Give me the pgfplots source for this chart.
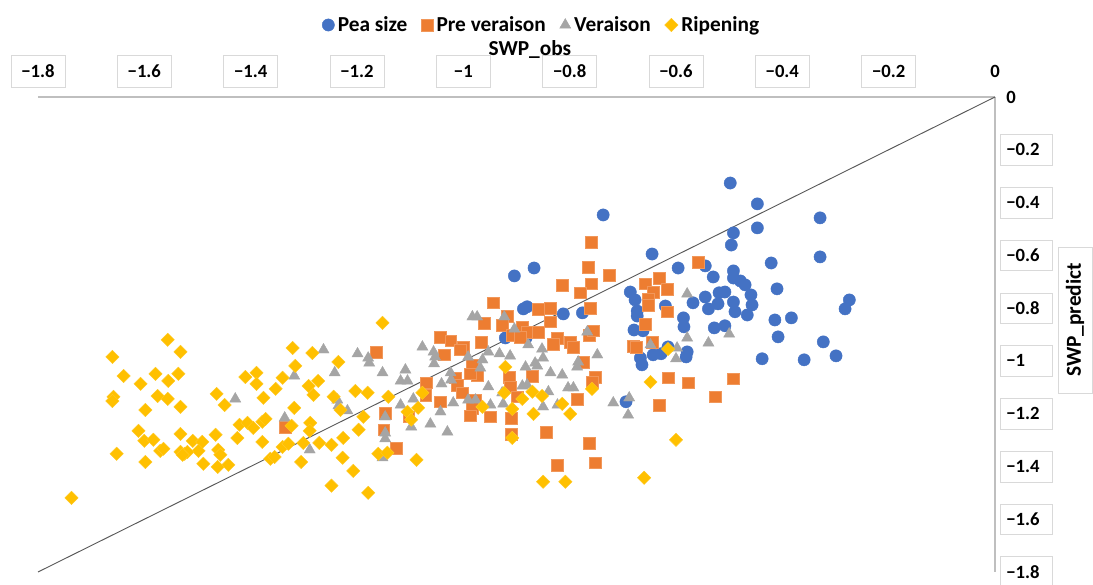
\documentclass[border=0pt]{standalone}
\usepackage{fontspec}
\setmainfont{Carlito}
\usepackage{pgfplots}
\pgfplotsset{compat=1.18}

\definecolor{peablue}{HTML}{4472C4}
\definecolor{preorange}{HTML}{ED7D31}
\definecolor{vergray}{HTML}{A5A5A5}
\definecolor{ripgold}{HTML}{FFC000}
\definecolor{axisgray}{HTML}{BFBFBF}
\definecolor{boxgray}{HTML}{D9D9D9}
\definecolor{linegray}{HTML}{595959}

\begin{document}
\begin{tikzpicture}
\begin{axis}[
  at={(0,0)}, anchor=south west,
  scale only axis, width=717.75pt, height=356.25pt,
  xmin=-1.8, xmax=0, ymin=-1.8, ymax=0,
  axis x line=top, axis y line=right,
  axis line style={-, draw=axisgray, line width=1.3pt},
  major tick length=0pt,
  xtick={-1.8,-1.6,-1.4,-1.2,-1,-0.8,-0.6,-0.4,-0.2},
  xticklabels={−1.8,−1.6,−1.4,−1.2,−1,−0.8,−0.6,−0.4,−0.2},
  ytick={-1.8,-1.6,-1.4,-1.2,-1,-0.8,-0.6,-0.4,-0.2},
  yticklabels={−1.8,−1.6,−1.4,−1.2,−1,−0.8,−0.6,−0.4,−0.2},
  extra x ticks={0}, extra x tick labels={0},
  extra y ticks={0}, extra y tick labels={0},
  extra x tick style={xticklabel style={draw=none, fill=none}},
  extra y tick style={yticklabel style={draw=none, fill=none}},
  xticklabel shift=7pt, yticklabel shift=3.75pt,
  xticklabel style={anchor=south, font=\bfseries\fontsize{14pt}{16pt}\selectfont,
    draw=boxgray, fill=white, minimum width=40.5pt, minimum height=24pt, inner sep=0pt},
  yticklabel style={anchor=west, font=\bfseries\fontsize{14pt}{16pt}\selectfont,
    draw=boxgray, fill=white, text width=30pt, align=left, inner xsep=4.5pt,
    minimum height=23pt, inner ysep=0pt},
  xlabel={SWP\_obs},
  xlabel style={at={(axis description cs:0.514,1.099)}, anchor=center,
    font=\bfseries\fontsize{16pt}{18pt}\selectfont},
  ylabel={SWP\_predict},
  ylabel style={at={(axis description cs:1.0836,0.5305)}, anchor=center, rotate=0,
    font=\bfseries\fontsize{16pt}{18pt}\selectfont,
    draw=boxgray, fill=white, minimum width=109.5pt, minimum height=25.5pt, inner sep=0pt},
  legend columns=4,
  legend cell align=left,
  legend image code/.code={\draw[#1] plot coordinates {(0pt,0pt)};},
  legend style={draw=none, fill=none,
    at={(axis description cs:0.527,1.1516)}, anchor=center,
    font=\bfseries\fontsize{16pt}{18pt}\selectfont,
    nodes={inner xsep=2.5pt, inner ysep=1pt},
    /tikz/every even column/.append style={column sep=8pt}},
  clip=false,
]

% Pea size
\addplot[only marks, mark=*, mark size=4.6pt, mark options={fill=peablue, draw=peablue, line width=0.3pt}] coordinates {
(-0.498,-0.326) (-0.447,-0.405) (-0.447,-0.496) (-0.492,-0.515) (-0.496,-0.561) (-0.329,-0.458) (-0.329,-0.606) (-0.421,-0.629) (-0.737,-0.447) (-0.645,-0.595) (-0.596,-0.648) (-0.545,-0.640) (-0.530,-0.682) (-0.492,-0.659) (-0.492,-0.686) (-0.479,-0.697) (-0.470,-0.712) (-0.459,-0.750) (-0.457,-0.788) (-0.410,-0.727) (-0.508,-0.739) (-0.519,-0.742) (-0.545,-0.758) (-0.568,-0.780) (-0.539,-0.803) (-0.521,-0.784) (-0.492,-0.777) (-0.489,-0.814) (-0.466,-0.826) (-0.414,-0.845) (-0.383,-0.837) (-0.408,-0.909) (-0.323,-0.928) (-0.299,-0.981) (-0.359,-0.996) (-0.438,-0.992) (-0.274,-0.769) (-0.282,-0.803) (-0.586,-0.837) (-0.585,-0.871) (-0.528,-0.875) (-0.508,-0.867) (-0.686,-0.739) (-0.677,-0.769) (-0.673,-0.811) (-0.673,-0.830) (-0.679,-0.883) (-0.662,-0.886) (-0.620,-0.792) (-0.643,-0.977) (-0.628,-0.973) (-0.667,-0.989) (-0.664,-1.015) (-0.579,-0.966) (-0.581,-0.985) (-0.615,-0.947) (-0.694,-1.155) (-0.776,-0.818) (-0.812,-0.822) (-0.904,-0.678) (-0.867,-0.648) (-0.887,-0.803) (-0.880,-0.795) (-0.921,-0.913) (-0.882,-0.913)
};
\addlegendentry{Pea size}

% Pre veraison
\addplot[only marks, mark=square*, mark size=4.4pt, mark options={fill=preorange, draw=preorange!80!white, line width=0.3pt}] coordinates {
(-1.164,-0.966) (-1.335,-1.250) (-1.147,-1.197) (-1.150,-1.261) (-1.126,-1.330) (-1.103,-1.212) (-1.070,-1.083) (-1.071,-1.129) (-0.759,-0.549) (-0.765,-0.644) (-0.726,-0.674) (-0.814,-0.712) (-0.759,-0.708) (-0.780,-0.742) (-0.944,-0.780) (-0.859,-0.803) (-0.836,-0.799) (-0.761,-0.799) (-0.917,-0.830) (-0.927,-0.864) (-0.961,-0.856) (-0.889,-0.871) (-0.880,-0.890) (-0.859,-0.890) (-0.908,-0.902) (-0.893,-0.909) (-0.836,-0.852) (-0.823,-0.913) (-0.831,-0.936) (-0.799,-0.928) (-0.793,-0.947) (-0.763,-0.902) (-0.756,-0.886) (-0.774,-1.004) (-1.043,-0.909) (-1.024,-0.924) (-1.000,-0.947) (-1.006,-0.958) (-0.966,-0.928) (-1.036,-0.977) (-0.983,-1.015) (-0.974,-1.053) (-0.987,-1.049) (-1.015,-1.064) (-1.011,-1.091) (-1.002,-1.121) (-0.914,-1.061) (-0.912,-1.098) (-0.870,-1.057) (-0.752,-1.061) (-0.758,-1.080) (-0.898,-1.136) (-0.977,-1.148) (-0.983,-1.178) (-1.043,-1.155) (-0.987,-1.208) (-0.949,-1.212) (-0.910,-1.216) (-0.786,-1.144) (-0.844,-1.269) (-0.910,-1.277) (-0.823,-1.394) (-0.752,-1.386) (-0.763,-1.311) (-0.615,-1.064) (-0.577,-1.083) (-0.632,-1.167) (-0.526,-1.136) (-0.492,-1.068) (-0.558,-0.625) (-0.632,-0.686) (-0.658,-0.708) (-0.643,-0.739) (-0.617,-0.727) (-0.652,-0.765) (-0.652,-0.788) (-0.617,-0.814) (-0.658,-0.860) (-0.680,-0.943) (-0.675,-0.947) (-0.645,-0.928)
};
\addlegendentry{Pre veraison}

% Veraison
\addplot[only marks, mark=triangle*, mark size=4.8pt, mark options={fill=vergray, draw=vergray, line width=0.3pt}] coordinates {
(-1.429,-1.144) (-1.263,-0.958) (-1.318,-1.057) (-1.242,-1.045) (-1.199,-0.973) (-1.179,-0.989) (-1.177,-1.008) (-1.152,-1.045) (-1.237,-1.148) (-1.235,-1.170) (-1.218,-1.189) (-1.336,-1.216) (-1.289,-1.337) (-1.147,-1.212) (-1.147,-1.273) (-1.147,-1.295) (-1.152,-1.367) (-1.077,-0.947) (-1.109,-1.034) (-1.118,-1.076) (-1.105,-1.076) (-1.118,-1.167) (-1.094,-1.144) (-1.098,-1.250) (-1.062,-1.239) (-0.983,-0.833) (-0.974,-0.833) (-0.923,-0.833) (-0.904,-0.879) (-0.878,-0.939) (-0.852,-0.955) (-0.850,-0.989) (-0.865,-1.008) (-0.861,-1.019) (-0.883,-1.023) (-1.056,-0.966) (-1.053,-0.985) (-1.055,-1.011) (-0.991,-0.985) (-0.964,-0.996) (-0.953,-0.966) (-0.932,-0.973) (-0.912,-0.981) (-0.968,-1.027) (-1.024,-1.045) (-1.023,-1.072) (-1.041,-1.087) (-0.953,-1.098) (-0.889,-1.095) (-0.880,-1.091) (-0.840,-1.117) (-0.836,-1.045) (-0.814,-1.053) (-0.786,-1.023) (-0.784,-1.004) (-0.803,-1.102) (-0.793,-1.102) (-0.991,-1.148) (-0.977,-1.148) (-0.949,-1.167) (-0.927,-1.121) (-0.925,-1.163) (-0.850,-1.174) (-0.823,-1.167) (-1.019,-1.159) (-1.043,-1.193) (-1.030,-1.269) (-0.767,-0.890) (-0.748,-0.977) (-0.579,-0.746) (-0.579,-0.913) (-0.539,-0.932) (-0.500,-0.898) (-0.648,-0.939) (-0.598,-0.951) (-0.600,-0.992) (-0.718,-1.159) (-0.688,-1.140) (-0.690,-1.205)
};
\addlegendentry{Veraison}

% Ripening
\addplot[only marks, mark=square*, mark size=3.55pt, mark options={rotate=45, fill=ripgold, draw=ripgold!85!white, line width=0.3pt}] coordinates {
(-1.556,-0.920) (-1.532,-0.966) (-1.660,-0.985) (-1.639,-1.057) (-1.579,-1.049) (-1.536,-1.049) (-1.607,-1.087) (-1.555,-1.076) (-1.658,-1.136) (-1.660,-1.152) (-1.575,-1.133) (-1.556,-1.144) (-1.598,-1.186) (-1.532,-1.174) (-1.464,-1.125) (-1.449,-1.167) (-1.410,-1.061) (-1.389,-1.045) (-1.389,-1.087) (-1.611,-1.265) (-1.600,-1.303) (-1.583,-1.299) (-1.570,-1.341) (-1.564,-1.333) (-1.532,-1.277) (-1.509,-1.303) (-1.491,-1.307) (-1.498,-1.341) (-1.532,-1.345) (-1.524,-1.352) (-1.519,-1.345) (-1.528,-1.356) (-1.466,-1.280) (-1.461,-1.337) (-1.457,-1.356) (-1.489,-1.390) (-1.462,-1.402) (-1.442,-1.394) (-1.425,-1.292) (-1.421,-1.242) (-1.406,-1.235) (-1.395,-1.254) (-1.652,-1.352) (-1.598,-1.383) (-1.737,-1.519) (-1.376,-1.140) (-1.353,-1.106) (-1.340,-1.064) (-1.321,-0.951) (-1.316,-1.019) (-1.284,-0.970) (-1.291,-1.095) (-1.273,-1.076) (-1.282,-1.129) (-1.235,-1.004) (-1.244,-1.136) (-1.203,-1.114) (-1.180,-1.121) (-1.141,-1.136) (-1.152,-0.856) (-1.231,-1.186) (-1.188,-1.212) (-1.378,-1.231) (-1.372,-1.220) (-1.378,-1.307) (-1.318,-1.178) (-1.323,-1.246) (-1.288,-1.235) (-1.289,-1.265) (-1.301,-1.311) (-1.271,-1.311) (-1.248,-1.318) (-1.226,-1.292) (-1.197,-1.261) (-1.340,-1.326) (-1.329,-1.314) (-1.363,-1.371) (-1.355,-1.364) (-1.305,-1.383) (-1.227,-1.367) (-1.207,-1.417) (-1.248,-1.473) (-1.179,-1.500) (-1.160,-1.352) (-1.143,-1.348) (-1.077,-1.121) (-1.085,-1.178) (-1.105,-1.193) (-1.098,-1.223) (-1.088,-1.375) (-0.921,-1.023) (-0.964,-1.174) (-0.923,-1.121) (-0.908,-1.182) (-0.889,-1.144) (-0.870,-1.117) (-0.852,-1.133) (-0.868,-1.201) (-0.814,-1.163) (-0.799,-1.201) (-0.758,-1.106) (-0.908,-1.292) (-0.850,-1.458) (-0.808,-1.458) (-0.648,-1.080) (-0.615,-0.955) (-0.600,-1.299) (-0.660,-1.443)
};
\addlegendentry{Ripening}

% 1:1 line
\addplot[linegray, line width=0.7pt, forget plot] coordinates {(-1.8,-1.8) (0,0)};
\end{axis}
\pgfresetboundingbox
\path (-28.5pt,-9.75pt) rectangle (791.25pt,429pt);
\end{tikzpicture}
\end{document}
